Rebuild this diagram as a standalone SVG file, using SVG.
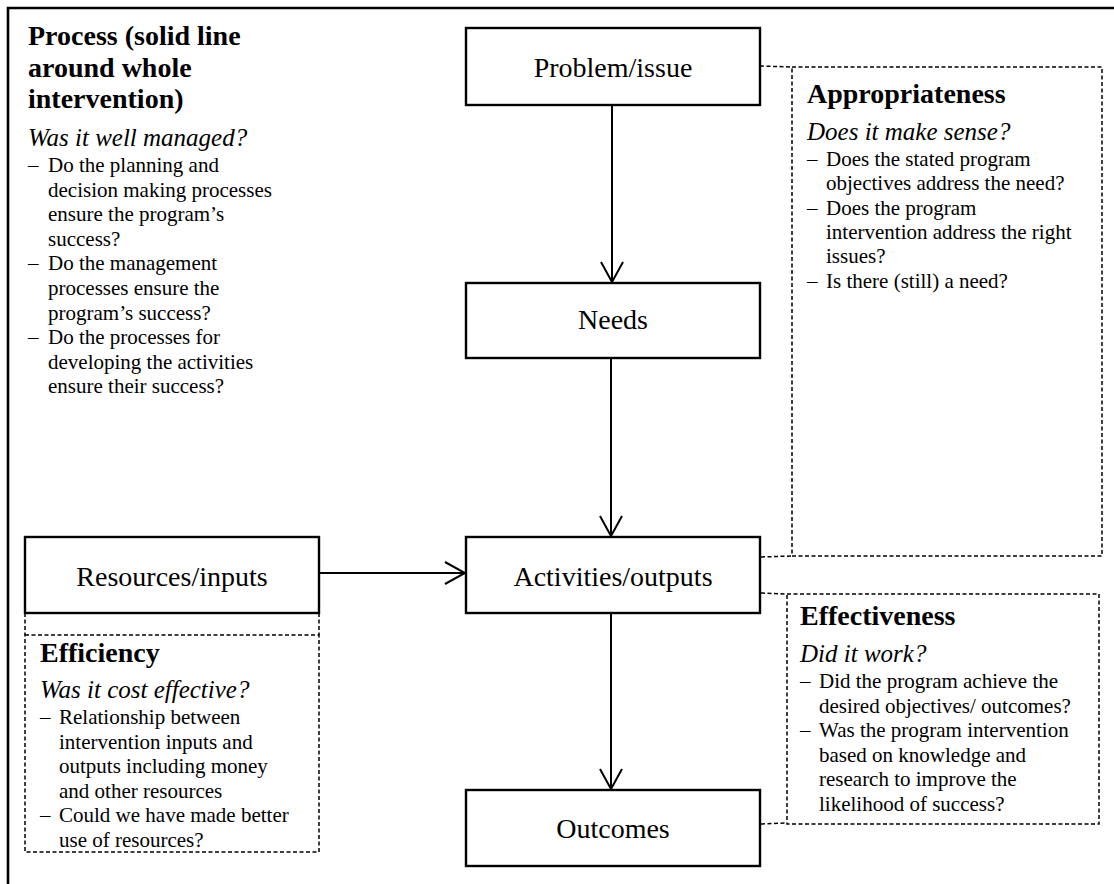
<svg xmlns="http://www.w3.org/2000/svg" width="1114" height="884" viewBox="0 0 1114 884">
<style>
text{font-family:"Liberation Serif","Times New Roman",serif;fill:#000}
.box{fill:#fff;stroke:#000;stroke-width:2.4}
.dbox{fill:none;stroke:#000;stroke-width:1.5;stroke-dasharray:4 2.5}
.lbl{font-size:28px;text-anchor:middle}
.h{font-size:28px;font-weight:bold}
.q{font-size:25px;font-style:italic}
.b{font-size:21px}
.arr{fill:none;stroke:#000;stroke-width:2}
</style>
<defs>
<marker id="vh" markerUnits="userSpaceOnUse" viewBox="0 0 24 24" markerWidth="24" markerHeight="24" refX="22" refY="12" orient="auto">
<path d="M2,1 L22,12 L2,23" fill="none" stroke="#000" stroke-width="2"/>
</marker>
</defs>
<rect width="1114" height="884" fill="#fff"/>
<path d="M8,884 V8 H1114" fill="none" stroke="#000" stroke-width="2.6"/>

<g id="process-note">
<text class="h" x="28" y="45">Process (solid line</text>
<text class="h" x="28" y="77">around whole</text>
<text class="h" x="28" y="108">intervention)</text>
<text class="q" x="28" y="146">Was it well managed?</text>
<g class="b">
<text x="28" y="172">–</text><text x="48" y="172">Do the planning and</text>
<text x="48" y="196.6">decision making processes</text>
<text x="48" y="221.2">ensure the program’s</text>
<text x="48" y="245.8">success?</text>
<text x="28" y="270.4">–</text><text x="48" y="270.4">Do the management</text>
<text x="48" y="295">processes ensure the</text>
<text x="48" y="319.6">program’s success?</text>
<text x="28" y="344.2">–</text><text x="48" y="344.2">Do the processes for</text>
<text x="48" y="368.8">developing the activities</text>
<text x="48" y="393.4">ensure their success?</text>
</g>
</g>

<g id="connectors">
<line class="arr" x1="612" y1="105" x2="612" y2="282" marker-end="url(#vh)"/>
<line class="arr" x1="611" y1="358" x2="611" y2="536" marker-end="url(#vh)"/>
<line class="arr" x1="611" y1="613" x2="611" y2="789" marker-end="url(#vh)"/>
<line class="arr" x1="319" y1="573" x2="465" y2="573" marker-end="url(#vh)"/>
<path class="dbox" d="M760,66 L792,67"/>
<path class="dbox" d="M761,557 L792,556"/>
<path class="dbox" d="M761,593 L787,594"/>
<path class="dbox" d="M761,824 L787,823"/>
<path class="dbox" d="M25,613 V635 M319,613 V635"/>
</g>

<g id="problem">
<rect class="box" x="466" y="28" width="294" height="77"/>
<text class="lbl" x="613" y="77">Problem/issue</text>
</g>
<g id="needs">
<rect class="box" x="466" y="283" width="294" height="75"/>
<text class="lbl" x="613" y="329">Needs</text>
</g>
<g id="activities">
<rect class="box" x="466" y="537" width="294" height="76"/>
<text class="lbl" x="613" y="586">Activities/outputs</text>
</g>
<g id="outcomes">
<rect class="box" x="466" y="790" width="294" height="76"/>
<text class="lbl" x="613" y="838">Outcomes</text>
</g>
<g id="resources">
<rect class="box" x="25" y="537" width="294" height="76"/>
<text class="lbl" x="172" y="586">Resources/inputs</text>
</g>

<g id="appropriateness">
<rect class="dbox" x="792" y="67" width="310" height="489"/>
<text class="h" x="807" y="103">Appropriateness</text>
<text class="q" x="807" y="140">Does it make sense?</text>
<g class="b">
<text x="807" y="166">–</text><text x="826" y="166">Does the stated program</text>
<text x="826" y="190.3">objectives address the need?</text>
<text x="807" y="214.6">–</text><text x="826" y="214.6">Does the program</text>
<text x="826" y="238.9">intervention address the right</text>
<text x="826" y="263.2">issues?</text>
<text x="807" y="287.5">–</text><text x="826" y="287.5">Is there (still) a need?</text>
</g>
</g>

<g id="effectiveness">
<rect class="dbox" x="787" y="594" width="312" height="230"/>
<text class="h" x="800" y="625">Effectiveness</text>
<text class="q" x="800" y="662">Did it work?</text>
<g class="b">
<text x="800" y="688">–</text><text x="819" y="688">Did the program achieve the</text>
<text x="819" y="712.5">desired objectives/ outcomes?</text>
<text x="800" y="737">–</text><text x="819" y="737">Was the program intervention</text>
<text x="819" y="761.5">based on knowledge and</text>
<text x="819" y="786">research to improve the</text>
<text x="819" y="810.5">likelihood of success?</text>
</g>
</g>

<g id="efficiency">
<rect class="dbox" x="25" y="635" width="294" height="217"/>
<text class="h" x="40" y="662">Efficiency</text>
<text class="q" x="40" y="698">Was it cost effective?</text>
<g class="b">
<text x="40" y="724">–</text><text x="59" y="724">Relationship between</text>
<text x="59" y="748.6">intervention inputs and</text>
<text x="59" y="773.2">outputs including money</text>
<text x="59" y="797.8">and other resources</text>
<text x="40" y="822.4">–</text><text x="59" y="822.4">Could we have made better</text>
<text x="59" y="847">use of resources?</text>
</g>
</g>
</svg>
